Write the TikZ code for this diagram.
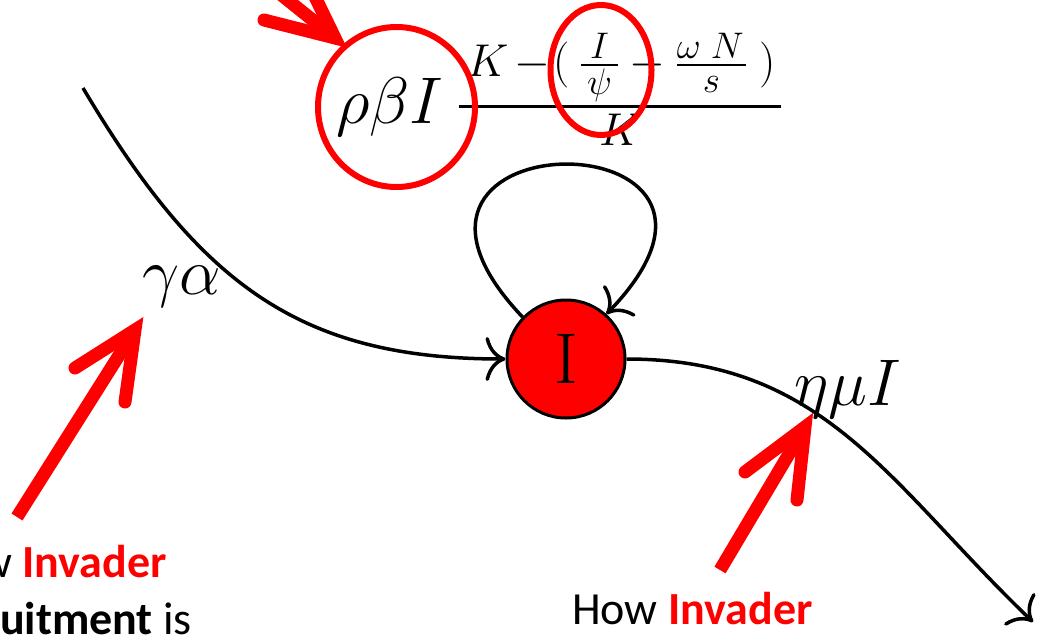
\documentclass[tikz,border=0pt]{standalone}
\usepackage{fix-cm}
\usepackage{exscale}
\usepackage{amsmath}
\usepackage{fontspec}
\newfontfamily\calibri{Carlito}
\usetikzlibrary{arrows.meta,calc}
\DeclareMathSizes{66}{66}{46}{37}
\tikzset{
  flow/.style={line width=3.5pt, draw=black,
    -{Computer Modern Rightarrow[length=20pt,width=44pt,line width=3.5pt]}},
  state/.style={circle, draw=black, line width=3pt, fill=red, minimum size=118pt, inner sep=0pt,
    font=\fontsize{72}{72}\selectfont},
  mlabel/.style={inner sep=0pt, font=\fontsize{66}{70}\selectfont},
  ring/.style={draw=red, line width=6pt},
  redshaft/.style={draw=red, line width=13pt, line cap=butt},
  redhead/.style={draw=red, line width=13pt, line cap=round, line join=miter},
  note/.style={inner sep=0pt, font=\calibri\fontsize{46}{50}\selectfont},
}
\newcommand\pointer[4]{%
  \draw[redshaft] (#1) -- ($(#2)!14pt!(#1)$);
  \draw[redhead] (#3) -- (#2) -- (#4);
}
\newcommand\bigfr[2]{\genfrac{}{}{3.2pt}{}{#1}{#2}}
\newcommand\smallfr[2]{\genfrac{}{}{2.4pt}{}{#1}{#2}}
\begin{document}
\begin{tikzpicture}[x=1pt,y=-1pt]
\fill[white] (0,0) rectangle (1038,637);
\useasboundingbox (0,0) rectangle (1038,637);

% state
\node[state] (I) at (566,359) {I};

% free ends
\coordinate (src) at (83,88);
\coordinate (snk) at (1033,622);

% connectors
\draw[flow] (src) .. controls (200,285) and (300,359) .. (I.west);
\draw[flow] (I.east) .. controls (825,359) and (889,484) .. (snk);
\draw[flow] (I.136) .. controls (330,114) and (800,114) .. (I.48);

% labels
\node[mlabel, anchor=base] (ga) at (182,294) {$\gamma\alpha$};
\node[mlabel, anchor=base] (emi) at (848,405) {$\eta\mu I$};
\node[mlabel, anchor=base west] (rate) at (336,123)
  {$\rho\beta I\mskip4mu\bigfr{\mskip3mu K\mskip2.5mu{-}\mskip1mu(\mskip4mu\smallfr{I}{\mskip3mu\psi\mskip3mu}\mskip4mu{-}\mskip4mu\smallfr{\omega\mskip5mu N\mskip1mu}{s}\mskip4.7mu)\mskip2mu}{K}$};

% red highlight rings
\draw[ring] (396.5,107) ellipse [x radius=78.5, y radius=80];
\draw[ring] (601,70) ellipse [x radius=50.5, y radius=65];

% red pointer arrows
\coordinate (atail) at (218,-56);
\coordinate (atip) at (335,38);
\coordinate (ab1) at (264,20);
\coordinate (ab2) at (303,-28);
\pointer{atail}{atip}{ab1}{ab2}

\coordinate (btail) at (17,517);
\coordinate (btip) at (135,330);
\coordinate (bb1) at (75,368);
\coordinate (bb2) at (125,402);
\pointer{btail}{btip}{bb1}{bb2}

\coordinate (ctail) at (720,570);
\coordinate (ctip) at (805,427);
\coordinate (cb1) at (745,472);
\coordinate (cb2) at (797,500);
\pointer{ctail}{ctip}{cb1}{cb2}

% notes
\node[note, anchor=base east] (n1) at (167,577) {How \textcolor{red}{\bfseries Invader}};
\node[note, anchor=base east] (n2) at (192,634) {{\bfseries Recruitment} is};
\node[note, anchor=base west] (n3) at (572,624) {How \textcolor{red}{\bfseries Invader}};
\end{tikzpicture}
\end{document}
